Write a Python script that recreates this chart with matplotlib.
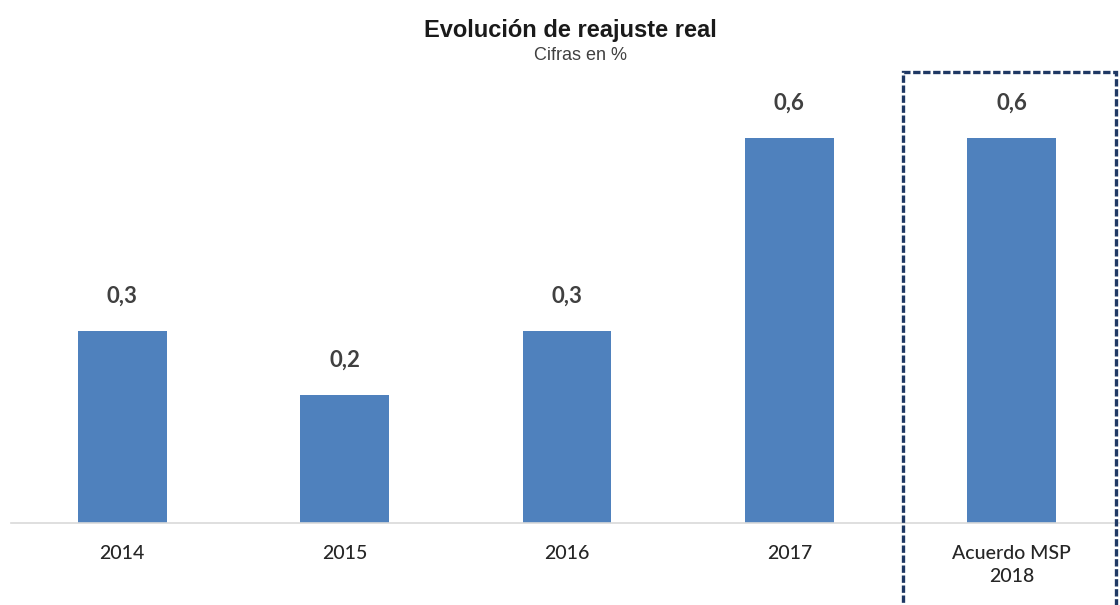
import matplotlib.pyplot as plt
from matplotlib.patches import Rectangle

# Datos del gráfico
categorias = ['2014', '2015', '2016', '2017', 'Acuerdo MSP\n2018']
reajuste = [0.3, 0.2, 0.3, 0.6, 0.6]
etiquetas = ['0,3', '0,2', '0,3', '0,6', '0,6']

plt.rcParams['font.family'] = ['Lato', 'DejaVu Sans']

fig = plt.figure(figsize=(11.2, 6.05), dpi=100)
ax = fig.add_axes([11 / 1120, 82 / 605, 1112 / 1120, 449 / 605])

x = range(len(categorias))
bars = ax.bar(x, reajuste, width=0.4, color='#4F81BD')

ax.set_xlim(-0.5, len(categorias) - 0.5)
ax.set_ylim(0, 0.7)

# etiquetas de datos
for b, txt in zip(bars, etiquetas):
    ax.annotate(txt, (b.get_x() + b.get_width() / 2, b.get_height()),
                xytext=(0, 25), textcoords='offset points',
                ha='center', va='center', fontsize=16, fontweight='bold',
                color='#404040')

ax.set_xticks(list(x))
ax.set_xticklabels(categorias, fontsize=14, color='#262626', linespacing=1.4,
                   fontweight='medium')
ax.tick_params(axis='x', length=0, pad=16)
ax.set_yticks([])
for s in ['top', 'right', 'left']:
    ax.spines[s].set_visible(False)
ax.spines['bottom'].set_color('#D9D9D9')
ax.spines['bottom'].set_linewidth(1.2)

# título
fig.text(570 / 1120, 1 - 30 / 605, 'Evolución de reajuste real', ha='center', va='center',
         fontsize=17, fontweight='bold', color='#1a1a1a', family=['Liberation Sans', 'DejaVu Sans'])
fig.text(580 / 1120, 1 - 56 / 605, 'Cifras en %', ha='center', va='center',
         fontsize=13, color='#404040', family=['Liberation Sans', 'DejaVu Sans'])

# recuadro punteado del acuerdo 2018
rect = Rectangle((903 / 1120, -0.05), 213 / 1120, 1.05 - 72 / 605,
                 transform=fig.transFigure, fill=False, edgecolor='#1F3864',
                 linewidth=2.4, linestyle=(0, (2.2, 0.8)), clip_on=False)
fig.patches.append(rect)

fig.savefig('out.png', dpi=100)
